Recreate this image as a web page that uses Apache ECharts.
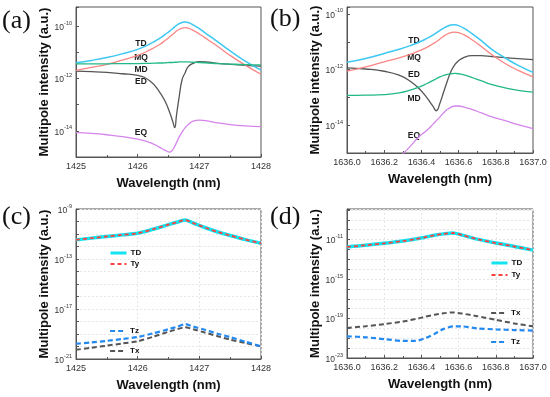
<!DOCTYPE html>
<html><head><meta charset="utf-8">
<script src="https://cdn.jsdelivr.net/npm/echarts@6/dist/echarts.min.js"></script>
<style>html,body{margin:0;padding:0;background:#fff}#c{width:550px;height:397px}</style>
</head><body><div id="c"></div><script>
// ---- Data: values are log10 of multipole intensity (a.u.) ----
// Panel (a)
const waveA = [1425.0,1425.25,1425.5,1425.75,1426.0,1426.2,1426.35,1426.45,1426.52,1426.57,1426.6,1426.63,1426.67,1426.72,1426.77,1426.82,1426.9,1427.0,1427.15,1427.3,1427.5,1427.75,1428.0];
const a_TD = [-11.40,-11.31,-11.20,-11.06,-10.89,-10.68,-10.48,-10.31,-10.19,-10.09,-10.03,-9.97,-9.91,-9.86,-9.84,-9.86,-9.95,-10.10,-10.35,-10.60,-10.95,-11.35,-11.68];
const a_MQ = [-11.69,-11.58,-11.46,-11.30,-11.12,-10.91,-10.71,-10.54,-10.41,-10.31,-10.25,-10.19,-10.13,-10.08,-10.06,-10.08,-10.16,-10.30,-10.54,-10.78,-11.12,-11.50,-11.84];
const a_MD = [-11.44,-11.44,-11.44,-11.43,-11.43,-11.42,-11.41,-11.40,-11.39,-11.39,-11.38,-11.38,-11.37,-11.37,-11.37,-11.37,-11.38,-11.39,-11.41,-11.43,-11.45,-11.47,-11.48];
const a_ED = [-11.72,-11.74,-11.77,-11.82,-11.88,-12.10,-12.50,-12.90,-13.30,-13.65,-13.88,-13.40,-12.75,-12.05,-11.78,-11.55,-11.42,-11.36,-11.38,-11.42,-11.46,-11.50,-11.53];
const a_EQ = [-14.07,-14.10,-14.15,-14.22,-14.32,-14.45,-14.62,-14.75,-14.81,-14.72,-14.60,-14.45,-14.25,-14.05,-13.88,-13.76,-13.63,-13.59,-13.63,-13.70,-13.76,-13.81,-13.84];
// Panel (b)
const waveB = [1636.0,1636.1,1636.2,1636.28,1636.34,1636.39,1636.43,1636.46,1636.48,1636.5,1636.52,1636.54,1636.56,1636.58,1636.6,1636.63,1636.67,1636.72,1636.78,1636.85,1636.92,1637.0];
const b_TD = [-11.74,-11.60,-11.42,-11.27,-11.14,-11.01,-10.88,-10.77,-10.68,-10.59,-10.51,-10.44,-10.40,-10.39,-10.42,-10.52,-10.70,-10.95,-11.28,-11.58,-11.85,-12.10];
const b_MQ = [-12.06,-11.90,-11.72,-11.58,-11.45,-11.32,-11.20,-11.08,-11.00,-10.90,-10.80,-10.72,-10.67,-10.65,-10.67,-10.75,-10.92,-11.16,-11.47,-11.78,-12.03,-12.26];
const b_ED = [-11.94,-11.98,-12.06,-12.20,-12.42,-12.70,-13.02,-13.30,-13.48,-13.20,-12.80,-12.40,-12.05,-11.82,-11.68,-11.56,-11.50,-11.50,-11.53,-11.57,-11.61,-11.64];
const b_MD = [-12.93,-12.92,-12.90,-12.84,-12.74,-12.62,-12.50,-12.40,-12.33,-12.26,-12.21,-12.17,-12.15,-12.14,-12.15,-12.19,-12.28,-12.40,-12.54,-12.66,-12.75,-12.81];
const b_EQ = [null,null,null,-15.18,-14.76,-14.40,-14.18,-13.98,-13.84,-13.70,-13.55,-13.43,-13.35,-13.31,-13.31,-13.35,-13.43,-13.55,-13.70,-13.84,-13.98,-14.12];
// Panel (c)
const waveC = [1425,1425.25,1425.5,1425.75,1426,1426.25,1426.5,1426.65,1426.77,1426.9,1427.1,1427.3,1427.5,1427.75,1428];
const c_TD = [-11.47,-11.33,-11.20,-11.07,-10.94,-10.62,-10.25,-10.04,-9.88,-10.12,-10.50,-10.84,-11.12,-11.45,-11.74];
const c_Ty = [-11.47,-11.33,-11.20,-11.07,-10.94,-10.62,-10.25,-10.04,-9.88,-10.12,-10.50,-10.84,-11.12,-11.45,-11.74];
const c_Tz = [-19.78,-19.67,-19.55,-19.40,-19.24,-18.95,-18.62,-18.40,-18.21,-18.40,-18.68,-18.98,-19.25,-19.62,-19.99];
const c_Tx = [-20.26,-20.10,-19.93,-19.76,-19.59,-19.22,-18.82,-18.60,-18.45,-18.62,-18.90,-19.18,-19.45,-19.72,-19.99];
// Panel (d)
const waveD = [1636.0,1636.1,1636.2,1636.3,1636.37,1636.42,1636.47,1636.52,1636.57,1636.62,1636.7,1636.8,1636.9,1637.0];
const d_TD = [-11.74,-11.58,-11.38,-11.15,-10.95,-10.76,-10.57,-10.42,-10.33,-10.55,-10.95,-11.35,-11.70,-12.07];
const d_Ty = [-11.74,-11.58,-11.38,-11.15,-10.95,-10.76,-10.57,-10.42,-10.33,-10.55,-10.95,-11.35,-11.70,-12.07];
const d_Tx = [-19.96,-19.78,-19.57,-19.30,-19.05,-18.82,-18.62,-18.46,-18.38,-18.50,-18.76,-19.13,-19.50,-19.79];
const d_Tz = [-20.80,-20.90,-21.08,-21.27,-21.27,-21.00,-20.56,-20.05,-19.79,-19.80,-20.00,-20.10,-20.17,-20.22];

const FONT = 'Liberation Sans';
const chart = echarts.init(document.getElementById('c'), null, {renderer:'canvas'});

function pairs(xs, ys){ const out=[]; xs.forEach((x,i)=>{ if(ys[i]!=null) out.push([x, ys[i]]); }); return out; }
function line(name, idx, xs, ys, color, width, dash, smooth, z){
  return {type:'line', name, xAxisIndex:idx, yAxisIndex:idx, data:pairs(xs,ys), symbol:'none', showSymbol:false,
    smooth: smooth, z: z||2, clip:true,
    lineStyle:{color, width, type: dash||'solid', cap:'butt'}, itemStyle:{color}};
}
const grids = [
  {left:76, top:7, width:185, height:150},
  {left:347, top:7, width:186, height:146},
  {left:76, top:209, width:185, height:150},
  {left:347, top:209, width:186, height:149}
].map(g=>Object.assign({show:true, borderColor:'#555', borderWidth:1, backgroundColor:'transparent'}, g));

function xAx(idx, min, max, interval, dec, grid){
  return {type:'value', gridIndex:idx, min, max, interval,
    name:'Wavelength (nm)', nameLocation:'middle', nameGap:20,
    nameTextStyle:{fontFamily:FONT, fontWeight:'bold', fontSize:13, color:'#111'},
    axisLine:{show:true, lineStyle:{color:'#555', width:1}},
    axisTick:{show:true, inside:true, length:3, lineStyle:{color:'#555'}},
    minorTick:{show:true, splitNumber:2, length:2, lineStyle:{color:'#555'}},
    axisLabel:{fontFamily:FONT, fontSize:9, color:'#333', margin:5, formatter: v=>v.toFixed(dec)},
    splitLine:{show:grid, lineStyle:{color:'#e6e6e6', width:1, type:[2,2]}}
  };
}
function yAx(idx, min, max, step, base, gap, grid){
  return {type:'value', gridIndex:idx, min, max, interval:1,
    name:'Multipole intensity (a.u.)', nameLocation:'middle', nameGap:gap,
    nameTextStyle:{fontFamily:FONT, fontWeight:'bold', fontSize:13, color:'#111'},
    axisLine:{show:true, lineStyle:{color:'#555', width:1}},
    axisTick:{show:true, inside:true, length:3, lineStyle:{color:'#555'}},
    axisLabel:{fontFamily:FONT, margin:4, color:'#333',
      formatter: v => {
        const r = Math.round(v);
        if (Math.abs(v - r) > 1e-6) return '';
        if (((r - base) % step + step) % step !== 0) return '';
        return '{b|10}{s|' + r + '}';
      },
      rich:{ b:{fontFamily:FONT, fontSize:8.5, color:'#333', lineHeight:12, verticalAlign:'bottom'},
             s:{fontFamily:FONT, fontSize:5.5, color:'#333', lineHeight:12, verticalAlign:'top'} }
    },
    splitLine:{show:grid, lineStyle:{color:'#e6e6e6', width:1, type:[2,2]}}
  };
}

const C = {TD:'#3cc8f2', MQ:'#f98585', MD:'#22b987', ED:'#555555', EQ:'#d585ec'};
const series = [
  line('MD (a)',0,waveA,a_MD,C.MD,1.3,null,true,3),
  line('ED (a)',0,waveA,a_ED,C.ED,1.3,null,true,2),
  line('EQ (a)',0,waveA,a_EQ,C.EQ,1.3,null,true,2),
  line('MQ (a)',0,waveA,a_MQ,C.MQ,1.3,null,true,2),
  line('TD (a)',0,waveA,a_TD,C.TD,1.5,null,true,2),
  line('ED (b)',1,waveB,b_ED,C.ED,1.3,null,true,2),
  line('MD (b)',1,waveB,b_MD,C.MD,1.3,null,true,2),
  line('EQ (b)',1,waveB,b_EQ,C.EQ,1.3,null,true,2),
  line('MQ (b)',1,waveB,b_MQ,C.MQ,1.3,null,true,2),
  line('TD (b)',1,waveB,b_TD,C.TD,1.5,null,true,2),
  line('TD (c)',2,waveC,c_TD,'#11e3f0',3.5,null,0.3,2),
  line('Ty (c)',2,waveC,c_Ty,'#ff4040',1.8,[4,3],0.3,3),
  line('Tz (c)',2,waveC,c_Tz,'#2289f0',2.2,[5,3],0.2,3),
  line('Tx (c)',2,waveC,c_Tx,'#555555',2,[5,3],0.2,2),
  line('TD (d)',3,waveD,d_TD,'#11e3f0',3.5,null,0.3,2),
  line('Ty (d)',3,waveD,d_Ty,'#ff4040',1.8,[4,3],0.3,3),
  line('Tx (d)',3,waveD,d_Tx,'#555555',2,[5,3],0.2,2),
  line('Tz (d)',3,waveD,d_Tz,'#2289f0',2.2,[5,3],0.2,3)
];

const legendWidth = {TD:3, Ty:2, Tz:2.2, Tx:2};
function lg(names, left, top, gap){
  return {data:names.map(n=>({name:n, lineStyle:{width:legendWidth[n.split(' ')[0]]}})),
    orient:'vertical', left, top, itemWidth:16, itemHeight:8, itemGap:gap, padding:0,
    selectedMode:false, formatter: n => n.split(' ')[0],
    itemStyle:{opacity:0},
    textStyle:{fontFamily:FONT, fontWeight:'bold', fontSize:8, color:'#111', padding:[0,0,0,-1]}};
}

const panelLbl = (t, left, top) => ({text:t, left, top, padding:0,
  textStyle:{fontFamily:'Liberation Serif', fontSize:26, fontWeight:'normal', color:'#111'}});

function ann(t, x, y){ return {type:'text', x, y, silent:true,
  style:{text:t, font:'bold 8.5px "Liberation Sans"', fill:'#1a1a1a', align:'center', verticalAlign:'middle'}}; }

chart.setOption({
  animation:false,
  backgroundColor:'#fff',
  title:[panelLbl('(a)',2,8), panelLbl('(b)',270,6), panelLbl('(c)',2,204), panelLbl('(d)',270,204)],
  grid: grids,
  xAxis:[xAx(0,1425,1428,1,0,false), xAx(1,1636,1637,0.2,1,false), xAx(2,1425,1428,1,0,true), xAx(3,1636,1637,0.2,1,true)],
  yAxis:[yAx(0,-15,-9.27,2,0,24,false), yAx(1,-15,-9.75,2,0,22,false), yAx(2,-21,-9,4,-21,24,true), yAx(3,-23,-7.9,4,-23,22,true)],
  legend:[lg(['TD (c)','Ty (c)'],109,249,3), lg(['Tz (c)','Tx (c)'],109,327,12),
          lg(['TD (d)','Ty (d)'],490,259,4), lg(['Tx (d)','Tz (d)'],490,309,21)],
  graphic:[
    ann('TD',141,44), ann('MQ',141,57.5), ann('MD',141,69.5), ann('ED',141,82), ann('EQ',141,133),
    ann('TD',414,41), ann('MQ',414,57.5), ann('ED',414,75), ann('MD',414,98.5), ann('EQ',414,136)
  ],
  series
});
</script></body></html>
